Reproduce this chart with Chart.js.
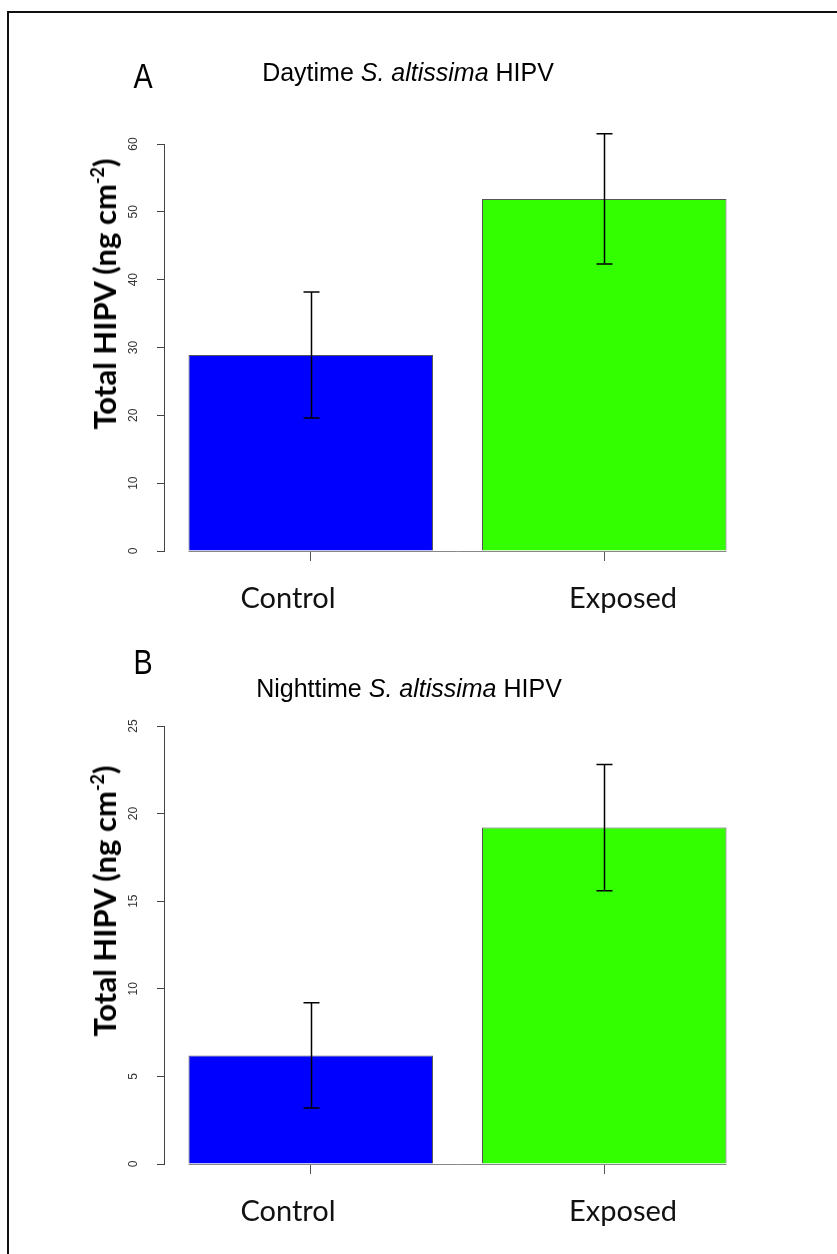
<!DOCTYPE html>
<html>
<head>
<meta charset="utf-8">
<script src="https://cdn.jsdelivr.net/npm/chart.js@4.4.1/dist/chart.umd.min.js"></script>
<style>
  body { margin: 0; background: #fff; }
  #page { position: relative; width: 837px; height: 1254px; overflow: hidden; background: #fff; }
  #frame { position: absolute; left: 7px; top: 11px; width: 900px; height: 1300px;
           border-top: 2px solid #111; border-left: 2px solid #111; }
  canvas { position: absolute; left: 0; }
  .txt { position: absolute; transform: translate(-50%, -50%); white-space: nowrap; color: #000; }
  .letter { font-family: "Liberation Sans", Arial, sans-serif; font-size: 35px;
            transform: translate(-50%, -50%) scaleX(0.82); }
  .title { font-family: "Liberation Sans", Arial, sans-serif; font-size: 25px; }
  .cat { font-family: Lato, "Open Sans", sans-serif; font-size: 29px; color: #111; }
  .ytitle { font-family: Lato, "Open Sans", sans-serif; font-size: 31px; font-weight: bold;
            transform: translate(-50%, -50%) rotate(-90deg); }
  .ytitle sup { font-size: 18px; vertical-align: 12px; line-height: 0; }
</style>
</head>
<body>
<div id="page">
  <div id="frame"></div>
  <canvas id="dayChart" width="837" height="620" style="top:0"></canvas>
  <canvas id="nightChart" width="837" height="634" style="top:620px"></canvas>

  <div class="txt letter" style="left:143px; top:76px">A</div>
  <div class="txt title" style="left:408px; top:72px">Daytime <i>S. altissima</i> HIPV</div>
  <div class="txt ytitle" style="left:104px; top:294px">Total HIPV (ng cm<sup>-2</sup>)</div>
  <div class="txt cat" style="left:288px; top:596px">Control</div>
  <div class="txt cat" style="left:623px; top:596px">Exposed</div>

  <div class="txt letter" style="left:143px; top:662px">B</div>
  <div class="txt title" style="left:409px; top:688px">Nighttime <i>S. altissima</i> HIPV</div>
  <div class="txt ytitle" style="left:104px; top:901px">Total HIPV (ng cm<sup>-2</sup>)</div>
  <div class="txt cat" style="left:288px; top:1209px">Control</div>
  <div class="txt cat" style="left:623px; top:1209px">Exposed</div>
</div>

<script>
const categories = ["Control", "Exposed"];
const barColors = ["#0000ff", "#33ff00"];

// daytime means and error half-widths (ng cm-2)
const dayMeans = [28.9, 51.9];
const dayErr = [9.3, 9.6];
const dayTicks = [0, 10, 20, 30, 40, 50, 60];

// nighttime means and error half-widths
const nightMeans = [6.2, 19.2];
const nightErr = [3.0, 3.6];
const nightTicks = [0, 5, 10, 15, 20, 25];

// error bars, baseline and rotated y tick labels (R style)
const extrasPlugin = {
  id: "extras",
  afterDatasetsDraw(chart) {
    const ctx = chart.ctx;
    const yScale = chart.scales.y;
    const meta = chart.getDatasetMeta(0);
    const means = chart.data.datasets[0].data;
    const errs = chart.options.plugins.extras.errors;

    ctx.save();
    // baseline under the bars
    const first = meta.data[0], last = meta.data[meta.data.length - 1];
    const y0 = Math.round(yScale.getPixelForValue(0)) + 0.5;
    ctx.strokeStyle = "#888";
    ctx.lineWidth = 1;
    ctx.beginPath();
    ctx.moveTo(first.x - first.width / 2, y0);
    ctx.lineTo(last.x + last.width / 2, y0);
    ctx.stroke();

    // error bars
    ctx.strokeStyle = "#000";
    ctx.lineWidth = 1.5;
    meta.data.forEach((bar, i) => {
      const yHi = yScale.getPixelForValue(means[i] + errs[i]);
      const yLo = yScale.getPixelForValue(means[i] - errs[i]);
      const x = Math.round(bar.x) + 0.5;
      ctx.beginPath();
      ctx.moveTo(x, yHi); ctx.lineTo(x, yLo);
      ctx.moveTo(x - 8, yHi); ctx.lineTo(x + 8, yHi);
      ctx.moveTo(x - 8, yLo); ctx.lineTo(x + 8, yLo);
      ctx.stroke();
    });

    // y tick labels, parallel to the axis
    ctx.fillStyle = "#333";
    ctx.font = "12px 'Liberation Sans', Arial, sans-serif";
    ctx.textAlign = "center";
    ctx.textBaseline = "middle";
    const lx = chart.chartArea.left - 30;
    yScale.ticks.forEach(t => {
      const ty = yScale.getPixelForValue(t.value);
      ctx.save();
      ctx.translate(lx, ty);
      ctx.rotate(-Math.PI / 2);
      ctx.fillText(String(t.value), 0, 0);
      ctx.restore();
    });
    ctx.restore();
  }
};

function makeChart(id, means, errs, ticks, pad) {
  const ctx = document.getElementById(id).getContext("2d");
  const step = ticks[1] - ticks[0];
  return new Chart(ctx, {
    type: "bar",
    data: {
      labels: categories,
      datasets: [{
        data: means,
        backgroundColor: barColors,
        borderColor: "#555",
        borderWidth: 1,
        categoryPercentage: 1.0,
        barPercentage: 0.833
      }]
    },
    options: {
      responsive: false,
      animation: false,
      layout: { padding: pad },
      plugins: {
        legend: { display: false },
        tooltip: { enabled: false },
        extras: { errors: errs }
      },
      scales: {
        x: {
          grid: { display: true, offset: false, drawOnChartArea: false, tickLength: 10, color: "#555" },
          border: { display: false },
          ticks: { display: false },
          afterFit: (s) => { s.height = 12; }
        },
        y: {
          min: ticks[0],
          max: ticks[ticks.length - 1],
          ticks: { display: false, stepSize: step },
          grid: { drawOnChartArea: false, tickLength: 7, color: "#444" },
          border: { display: true, color: "#444", width: 1 },
          afterFit: (s) => { s.width = 10; }
        }
      }
    },
    plugins: [extrasPlugin]
  });
}

// chart area spans x 164..751 in both panels
makeChart("dayChart", dayMeans, dayErr, dayTicks, { left: 154, right: 86, top: 144, bottom: 620 - 551 - 12 });
makeChart("nightChart", nightMeans, nightErr, nightTicks, { left: 154, right: 86, top: 106, bottom: 634 - 544 - 12 });
</script>
</body>
</html>
